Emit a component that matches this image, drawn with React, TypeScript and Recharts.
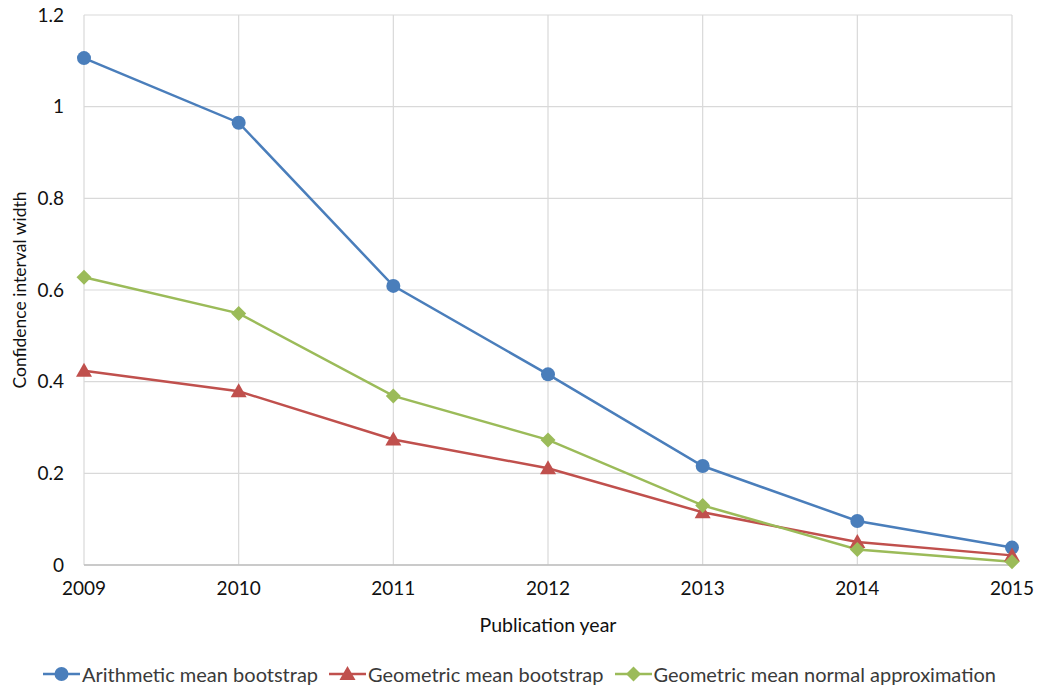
import React from "react";
import { LineChart, Line, XAxis, YAxis, CartesianGrid, Legend } from "recharts";

const years = ["2009", "2010", "2011", "2012", "2013", "2014", "2015"];
const arithmeticBootstrap = [1.106, 0.965, 0.609, 0.416, 0.216, 0.096, 0.038];
const geometricBootstrap = [0.424, 0.379, 0.274, 0.211, 0.115, 0.05, 0.021];
const geometricNormal = [0.628, 0.549, 0.369, 0.273, 0.13, 0.034, 0.007];
const yTicks = [0, 0.2, 0.4, 0.6, 0.8, 1, 1.2];

const BLUE = "#4a7ebb";
const RED = "#c0504d";
const GREEN = "#9bbb59";

const data = years.map((year, i) => ({
  year,
  arith: arithmeticBootstrap[i],
  geoBoot: geometricBootstrap[i],
  geoNorm: geometricNormal[i],
}));

const series = [
  { key: "arith", name: "Arithmetic mean bootstrap", color: BLUE, shape: "circle" },
  { key: "geoBoot", name: "Geometric mean bootstrap", color: RED, shape: "triangle" },
  { key: "geoNorm", name: "Geometric mean normal approximation", color: GREEN, shape: "diamond" },
];

function Marker({ cx, cy, shape, color }: { cx: number; cy: number; shape: string; color: string }) {
  if (shape === "circle") return <circle cx={cx} cy={cy} r={7} fill={color} />;
  if (shape === "triangle")
    return <polygon points={`${cx},${cy - 8} ${cx + 8},${cy + 6} ${cx - 8},${cy + 6}`} fill={color} />;
  return <polygon points={`${cx},${cy - 7.5} ${cx + 7.5},${cy} ${cx},${cy + 7.5} ${cx - 7.5},${cy}`} fill={color} />;
}

function makeDot(shape: string, color: string) {
  return (props: any) => {
    const { cx, cy, index } = props;
    return <Marker key={`${shape}-${index}`} cx={cx} cy={cy} shape={shape} color={color} />;
  };
}

function LegendContent() {
  return (
    <div style={{ display: "flex", justifyContent: "center", alignItems: "center", height: 33, paddingTop: 21, paddingLeft: 10 }}>
      {series.map((s) => (
        <div key={s.key} style={{ display: "flex", alignItems: "center", marginRight: 11 }}>
          <svg width={37} height={18}>
            <line x1={0} y1={9} x2={37} y2={9} stroke={s.color} strokeWidth={2.5} />
            <Marker cx={18.5} cy={9} shape={s.shape} color={s.color} />
          </svg>
          <span style={{ fontSize: 20, color: "#3a3a3a", marginLeft: 2 }}>{s.name}</span>
        </div>
      ))}
    </div>
  );
}

export default function App() {
  return (
    <div style={{ position: "absolute", left: 0, top: 0, width: 1040, height: 690, background: "#fff", fontFamily: "Lato, 'Noto Sans', sans-serif" }}>
      <LineChart width={1040} height={690} data={data} margin={{ top: 15, right: 28, bottom: 0, left: 0 }}>
        <CartesianGrid stroke="#d9d9d9" strokeWidth={1.2} />
        <XAxis
          dataKey="year"
          tickLine={false}
          tickSize={0}
          tickMargin={17}
          axisLine={{ stroke: "#bfbfbf", strokeWidth: 1.5 }}
          tick={{ fill: "#111", fontSize: 19 }}
          height={71}
          label={{ value: "Publication year", position: "insideBottom", offset: 4, fill: "#111", fontSize: 19.5 }}
        />
        <YAxis
          width={84}
          domain={[0, 1.2]}
          ticks={yTicks}
          axisLine={false}
          tickLine={false}
          tickSize={0}
          tickMargin={20}
          tick={{ fill: "#111", fontSize: 19 }}
          label={{ value: "Confidence interval width", angle: -90, position: "insideLeft", offset: 20, fill: "#111", fontSize: 17.5, style: { textAnchor: "middle" } }}
        />
        <Legend verticalAlign="bottom" wrapperStyle={{ left: 0, width: 1040 }} content={<LegendContent />} />
        {series.map((s) => (
          <Line
            key={s.key}
            type="linear"
            dataKey={s.key}
            name={s.name}
            stroke={s.color}
            strokeWidth={2.5}
            dot={makeDot(s.shape, s.color)}
            activeDot={false}
            isAnimationActive={false}
          />
        ))}
      </LineChart>
    </div>
  );
}
